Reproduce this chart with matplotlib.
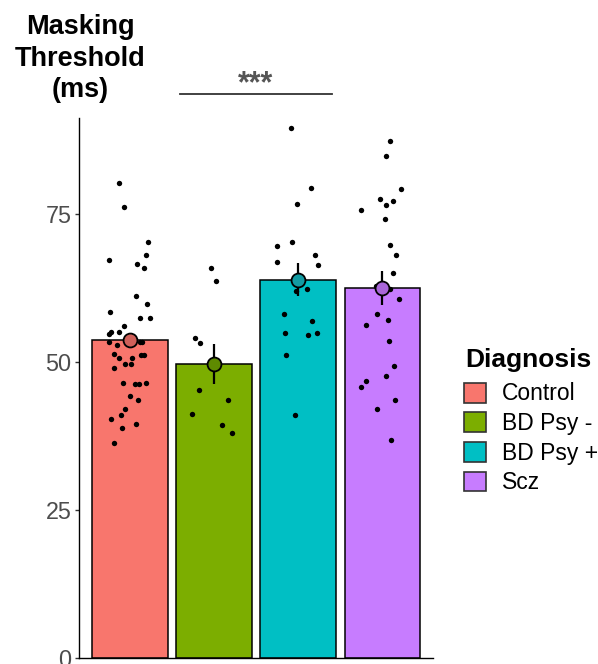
import matplotlib
matplotlib.use("Agg")
import matplotlib.pyplot as plt
from matplotlib.patches import Patch
import numpy as np

plt.rcParams['font.family'] = ['Liberation Sans', 'DejaVu Sans']

categories = ["Control", "BD Psy -", "BD Psy +", "Scz"]
colors = ["#F8766D", "#7CAE00", "#00BFC4", "#C77CFF"]
mean_colors = ["#d0605a", "#5e8a00", "#139ca3", "#a966d8"]

control_vals = [80.2, 76.2, 70.2, 68.0, 67.2, 66.6, 65.8, 61.1, 59.8, 58.4,
                57.5, 57.5, 56.1, 55.1, 55.1, 54.7, 53.4, 53.3, 53.3, 52.8,
                51.4, 51.2, 51.1, 50.6, 50.6, 49.7, 49.7, 49.0, 46.5, 46.2,
                46.2, 46.5, 44.3, 43.5, 42.0, 40.3, 41.0, 38.8, 39.5, 36.3]
control_jitter = [-0.13, -0.07, 0.22, 0.19, -0.24, 0.09, 0.17, 0.08, 0.21, -0.23,
                  0.12, 0.24, -0.07, -0.22, -0.12, -0.24, -0.24, 0.12, 0.15, -0.15,
                  -0.19, 0.13, 0.17, -0.12, 0.03, -0.05, 0.02, -0.18, -0.08, 0.07,
                  0.11, 0.20, 0.01, 0.10, -0.06, -0.22, -0.10, -0.09, 0.08, -0.19]

bdneg_vals = [65.8, 63.6, 54.1, 53.2, 45.2, 43.6, 41.2, 39.4, 38.0]
bdneg_jitter = [-0.03, 0.03, -0.22, -0.17, -0.18, 0.17, -0.26, 0.10, 0.21]

bdpos_vals = [89.5, 79.3, 76.7, 69.5, 70.3, 68.1, 66.8, 66.4, 62.0, 62.4,
              58.1, 56.9, 54.9, 54.6, 54.9, 51.1, 41.0]
bdpos_jitter = [-0.08, 0.15, -0.01, -0.25, -0.07, 0.20, -0.25, 0.23, -0.02, 0.10,
                -0.17, 0.16, -0.16, 0.12, 0.22, -0.14, -0.04]

scz_vals = [87.4, 84.7, 79.2, 77.5, 76.5, 77.1, 75.7, 74.2, 69.7, 68.1,
            65.0, 62.9, 62.3, 60.6, 58.1, 57.1, 56.2, 53.5, 49.4, 47.6,
            46.8, 45.8, 43.5, 42.1, 36.8]
scz_jitter = [0.09, 0.04, 0.22, -0.03, 0.04, 0.13, -0.26, 0.03, 0.09, 0.16,
              0.13, -0.08, 0.09, 0.20, -0.06, 0.07, -0.19, 0.08, 0.14, 0.04,
              -0.19, -0.25, 0.15, -0.07, 0.10]

bar_means = [53.7, 49.6, 63.9, 62.5]
bar_se = [1.2, 3.4, 2.8, 2.9]

yticks = [0, 25, 50, 75]

groups_vals = [control_vals, bdneg_vals, bdpos_vals, scz_vals]
groups_jit = [control_jitter, bdneg_jitter, bdpos_jitter, scz_jitter]

W, H = 598, 664
fig = plt.figure(figsize=(W / 100, H / 100), dpi=100)
ax = fig.add_axes([79 / W, (H - 658) / H, (433 - 79) / W, (658 - 118) / H])

x = np.arange(len(categories))
ax.bar(x, bar_means, width=0.9, color=colors, edgecolor="black", linewidth=1.1, zorder=2)

for i, (vals, jit) in enumerate(zip(groups_vals, groups_jit)):
    ax.scatter(np.array(jit) + i, vals, s=15, color="black", zorder=3, linewidths=0)

for i in range(len(categories)):
    ax.errorbar(i, bar_means[i], yerr=bar_se[i], fmt="none", ecolor="black",
                elinewidth=1.6, capsize=0, zorder=4)
    ax.plot(i, bar_means[i], "o", markersize=10, markerfacecolor=mean_colors[i],
            markeredgecolor="black", markeredgewidth=1.3, zorder=5)

ax.set_xlim(-0.6, 3.6)
ax.set_ylim(0, 91.2)
ax.set_xticks([])
ax.set_yticks(yticks)
ax.set_yticklabels([str(t) for t in yticks], fontsize=16.8, color="#4d4d4d")
ax.tick_params(axis="y", length=3, width=1, color="#333333", pad=2.5)
for s in ["top", "right"]:
    ax.spines[s].set_visible(False)
for s in ["left", "bottom"]:
    ax.spines[s].set_color("black")
    ax.spines[s].set_linewidth(1.0)

# significance bracket
ax.plot([0.6, 2.4], [95.2, 95.2], color="#333333", linewidth=1.3, clip_on=False)
ax.text(1.5, 95.6, "***", ha="center", va="baseline", fontsize=22,
        fontweight="bold", color="#555555")

# y title at top
fig.text(80 / W, 1 - 14 / H, "Masking\nThreshold\n(ms)", ha="center", va="top",
         fontsize=19.5, fontweight="bold", linespacing=1.28, color="black")

# legend
fig.text(465 / W, 1 - 366.7 / H, "Diagnosis", ha="left", va="baseline",
         fontsize=19, fontweight="bold", color="black")
handles = [Patch(facecolor=c, edgecolor="#333333", linewidth=1.2) for c in colors]
leg = fig.legend(handles, categories, loc="upper left",
                 bbox_to_anchor=(464 / W, 1 - 382.5 / H), frameon=False,
                 prop={"size": 16.5},
                 handlelength=0.95, handleheight=0.95, handletextpad=0.7,
                 labelspacing=0.29, borderpad=0, borderaxespad=0)

fig.savefig("out.png", dpi=100)
